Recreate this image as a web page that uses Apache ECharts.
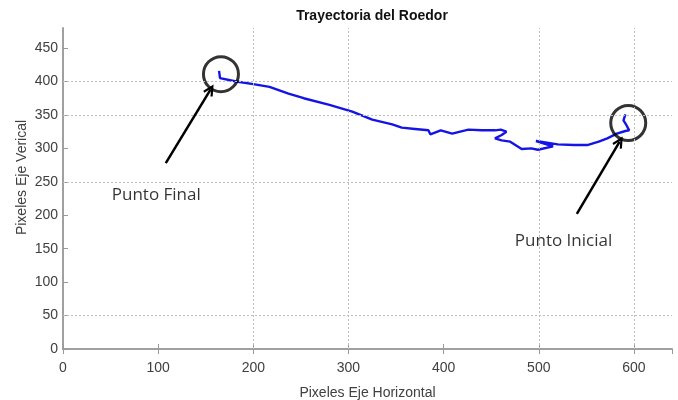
<!DOCTYPE html>
<html>
<head>
<meta charset="utf-8">
<script src="https://cdn.jsdelivr.net/npm/echarts@6/dist/echarts.min.js"></script>
<style>
html, body { margin: 0; padding: 0; background: #fff; }
#main { width: 678px; height: 400px; }
</style>
</head>
<body>
<div id="main"></div>
<script>
// trayectoria, desde el punto inicial (derecha) hasta el punto final (izquierda)
var trajX = [591, 589, 592, 595, 591, 582, 572, 563, 551, 537, 520, 497, 515, 499, 492, 482, 470, 461, 454, 461, 466, 460, 454, 440, 426, 409, 397, 386, 384, 370, 356, 346, 325, 304, 280, 253, 237, 217, 200, 182, 165, 164];
var trajY = [351, 342, 335, 327, 326, 322, 315, 310, 305, 305, 306, 311, 303, 298, 300, 299, 310, 312, 315, 320, 325, 328, 327, 327, 328, 322, 327, 321, 327, 329, 331, 336, 343, 355, 365, 375, 382, 392, 396, 400, 405, 416];

// lineas de rejilla visibles
var gridX = [200, 300, 500, 600];
var gridY = [50, 250, 350, 400];

// anotaciones
var circleX = [166, 594];
var circleY = [411, 338];
var arrowFrom = [[108, 278], [540, 202]];
var arrowTo = [[155, 388], [585, 310]];
var noteNames = ['Punto Final', 'Punto Inicial'];
var noteX = [98, 526];
var noteY = [230, 162];

var dom = document.getElementById('main');
var myChart = echarts.init(dom);

var trajData = trajX.map(function (x, i) { return [x, trajY[i]]; });
var circleData = circleX.map(function (x, i) { return [x, circleY[i]]; });
var noteData = noteNames.map(function (n, i) { return { name: n, value: [noteX[i], noteY[i]] }; });
var gridMarks = gridX.map(function (v) { return { xAxis: v }; })
    .concat(gridY.map(function (v) { return { yAxis: v }; }));
var arrowMarks = arrowFrom.map(function (p, i) {
    return [{ coord: p }, { coord: arrowTo[i] }];
});

var axisCol = '#9a9a9a';
var labelStyle = { color: '#404040', fontSize: 14, fontFamily: 'Liberation Sans' };

option = {
    backgroundColor: '#fff',
    animation: false,
    title: {
        text: 'Trayectoria del Roedor',
        left: 367,
        textAlign: 'center',
        top: 4,
        textStyle: { fontSize: 14, fontWeight: 'bold', color: '#111', fontFamily: 'Liberation Sans' }
    },
    grid: { left: 63, right: 6, top: 28, bottom: 51, outerBoundsMode: 'none', containLabel: false },
    xAxis: [{
        type: 'value', min: 0, max: 640, interval: 100,
        name: 'Pixeles Eje Horizontal', nameLocation: 'middle', nameGap: 37,
        nameTextStyle: labelStyle,
        axisLine: { show: true, lineStyle: { color: axisCol, width: 1.5 } },
        axisTick: { show: true, inside: true, length: 5, lineStyle: { color: axisCol } },
        axisLabel: { showMaxLabel: false, margin: 12, color: labelStyle.color, fontSize: 14, fontFamily: 'Liberation Sans' },
        splitLine: { show: false }
    }, {
        type: 'value', min: 0, max: 640, interval: 100, position: 'top',
        axisLine: { show: true, lineStyle: { color: axisCol, width: 1.5 } },
        axisTick: { show: true, inside: true, length: 5, lineStyle: { color: axisCol } },
        axisLabel: { show: false },
        splitLine: { show: false }
    }],
    yAxis: [{
        type: 'value', min: 0, max: 480, interval: 50,
        name: 'Pixeles Eje Verical', nameLocation: 'middle', nameGap: 34,
        nameMoveOverlap: false,
        nameTextStyle: { color: '#404040', fontSize: 14, fontFamily: 'Liberation Sans', padding: [0, 0, 0, 22] },
        axisLine: { show: true, lineStyle: { color: axisCol, width: 1.5 } },
        axisTick: { show: true, inside: true, length: 5, lineStyle: { color: axisCol } },
        axisLabel: { showMaxLabel: false, margin: 5, color: labelStyle.color, fontSize: 14, fontFamily: 'Liberation Sans' },
        splitLine: { show: false }
    }, {
        type: 'value', min: 0, max: 480, interval: 50, position: 'right',
        axisLine: { show: true, lineStyle: { color: axisCol, width: 1.5 } },
        axisTick: { show: false },
        axisLabel: { show: false },
        splitLine: { show: false }
    }],
    series: [
        {
            type: 'line', data: [], z: 1, silent: true,
            markLine: {
                silent: true, symbol: 'none', label: { show: false },
                lineStyle: { type: [2, 2], color: '#bdbdbd', width: 1 },
                data: gridMarks
            }
        },
        {
            name: 'Trayectoria', type: 'line', data: trajData, z: 3,
            showSymbol: false,
            lineStyle: { color: '#1414e6', width: 2.4 }
        },
        {
            type: 'scatter', data: circleData, z: 4, symbol: 'circle', symbolSize: 35,
            itemStyle: { color: 'rgba(0,0,0,0)', borderColor: '#000', borderWidth: 3 }
        },
        {
            type: 'line', data: [], z: 4,
            markLine: {
                silent: true,
                symbol: ['none', 'path://M5,0 L10,9 L8.3,10 L5,4 L1.7,10 L0,9 Z'],
                symbolSize: [11, 12],
                label: { show: false },
                lineStyle: { type: 'solid', color: '#000', width: 2.5 },
                data: arrowMarks
            }
        },
        {
            type: 'scatter', data: noteData, z: 5, symbolSize: 0,
            label: {
                show: true, position: 'inside', formatter: '{b}',
                color: '#000', fontSize: 17, fontFamily: 'Open Sans'
            }
        }
    ]
};

myChart.setOption(option, true);
</script>
</body>
</html>
